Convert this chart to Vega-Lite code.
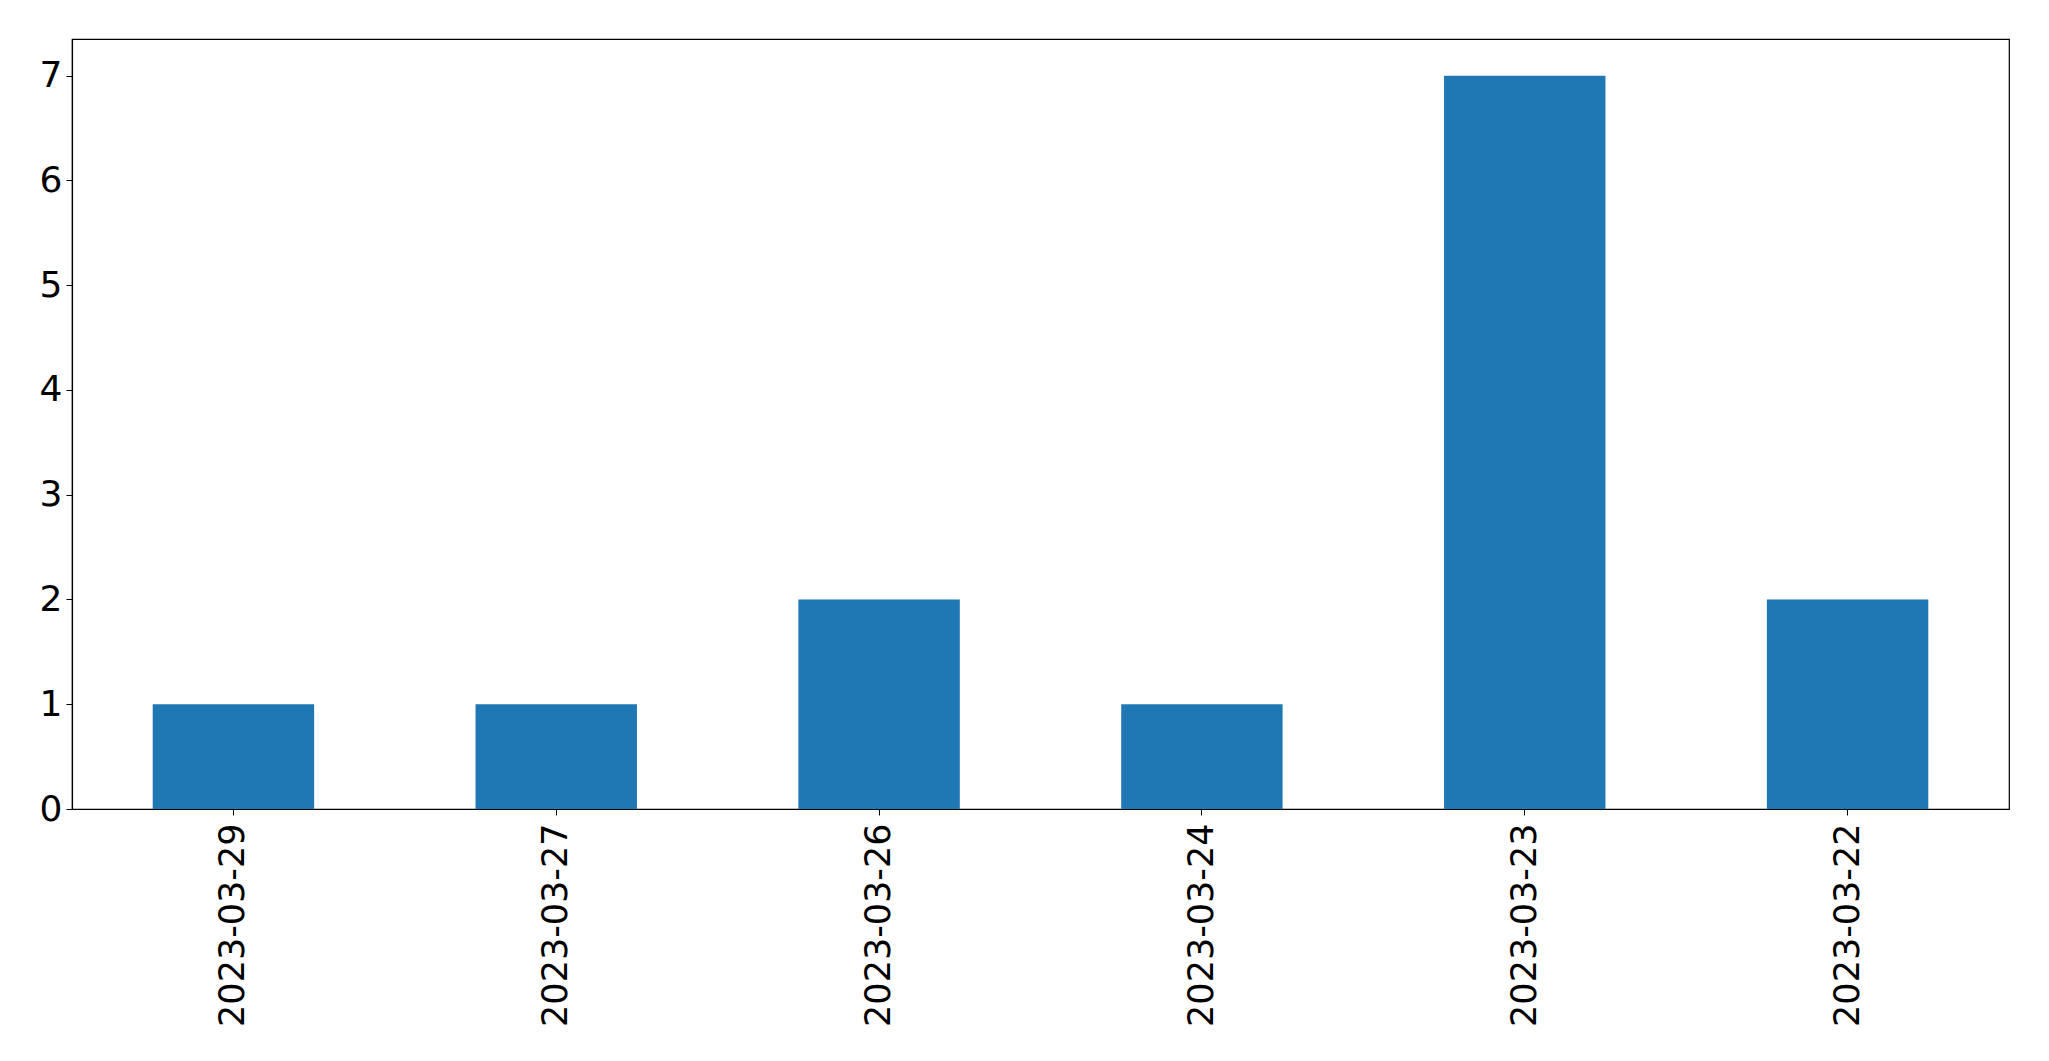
{
  "$schema": "https://vega.github.io/schema/vega-lite/v6.json",
  "autosize": {"type": "none"},
  "padding": {"left": 72, "top": 39, "right": 40, "bottom": 252},
  "width": 1937,
  "height": 770,
  "background": "white",
  "config": {
    "view": {"stroke": "black", "strokeWidth": 1.2},
    "font": "DejaVu Sans"
  },
  "data": {
    "values": [
      {"date": "2023-03-29", "count": 1},
      {"date": "2023-03-27", "count": 1},
      {"date": "2023-03-26", "count": 2},
      {"date": "2023-03-24", "count": 1},
      {"date": "2023-03-23", "count": 7},
      {"date": "2023-03-22", "count": 2}
    ]
  },
  "mark": {"type": "bar", "color": "#1f77b4"},
  "encoding": {
    "x": {
      "field": "date",
      "type": "nominal",
      "sort": null,
      "scale": {"paddingInner": 0.5, "paddingOuter": 0.25},
      "axis": {
        "title": null,
        "labelAngle": -90,
        "labelAlign": "right",
        "labelBaseline": "middle",
        "labelFontSize": 35,
        "labelLimit": 0,
        "labelColor": "black",
        "labelFont": "DejaVu Sans",
        "labelPadding": 8,
        "tickSize": 6,
        "tickColor": "black",
        "domainColor": "black",
        "domainWidth": 1.2,
        "grid": false
      }
    },
    "y": {
      "field": "count",
      "type": "quantitative",
      "scale": {"domain": [0, 7.35], "nice": false},
      "axis": {
        "title": null,
        "values": [0, 1, 2, 3, 4, 5, 6, 7],
        "labelFontSize": 36,
        "labelColor": "black",
        "labelFont": "DejaVu Sans",
        "labelPadding": 4,
        "tickSize": 6,
        "tickColor": "black",
        "domainColor": "black",
        "domainWidth": 1.2,
        "grid": false
      }
    }
  }
}
